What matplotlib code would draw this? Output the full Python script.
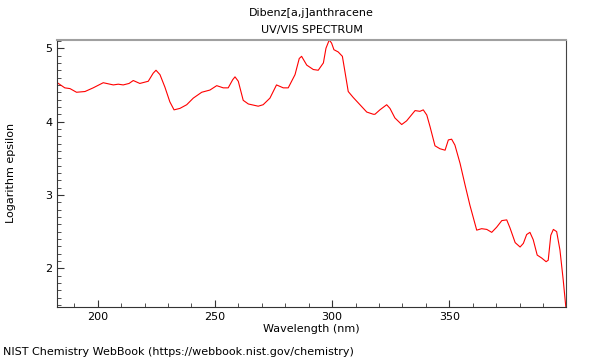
import matplotlib
matplotlib.use("Agg")
import matplotlib.pyplot as plt
from matplotlib.ticker import MultipleLocator

wavelength = [182.8, 186.0, 188.2, 191.0, 194.6, 198.1, 202.4, 206.7, 208.8, 210.9,
              213.4, 215.2, 218.0, 221.6, 223.7, 224.9, 226.6, 228.7, 230.8, 232.6,
              235.1, 238.0, 240.8, 244.4, 247.9, 250.8, 253.6, 255.7, 257.6, 258.6,
              260.0, 262.1, 264.3, 268.5, 270.6, 273.5, 276.3, 279.2, 281.3, 284.2,
              286.0, 287.0, 289.2, 292.0, 294.1, 296.3, 297.4, 298.8, 299.8, 300.8,
              302.6, 304.4, 305.5, 306.9, 309.0, 311.9, 314.8, 317.6, 318.3, 320.4,
              323.3, 324.7, 326.8, 329.7, 331.8, 335.4, 337.5, 338.9, 340.4, 341.8,
              343.9, 346.0, 348.2, 349.6, 351.0, 352.4, 354.6, 356.7, 358.8, 361.7,
              363.8, 366.0, 368.1, 370.2, 372.4, 374.5, 375.9, 378.1, 380.2, 381.6,
              383.0, 384.4, 385.8, 387.5, 389.4, 391.3, 392.2, 393.3, 394.4, 395.8,
              397.2, 398.6, 399.7]
log_eps = [4.53, 4.46, 4.45, 4.40, 4.41, 4.46, 4.53, 4.50, 4.51, 4.50,
           4.52, 4.56, 4.52, 4.55, 4.66, 4.70, 4.64, 4.47, 4.27, 4.16,
           4.18, 4.23, 4.32, 4.40, 4.43, 4.49, 4.46, 4.46, 4.57, 4.61,
           4.55, 4.29, 4.24, 4.21, 4.23, 4.32, 4.50, 4.46, 4.46, 4.64,
           4.86, 4.89, 4.77, 4.71, 4.70, 4.80, 5.00, 5.113, 5.07, 4.98,
           4.95, 4.89, 4.68, 4.41, 4.33, 4.23, 4.13, 4.10, 4.10, 4.16,
           4.23, 4.18, 4.05, 3.96, 4.01, 4.15, 4.14, 4.16, 4.09, 3.93,
           3.67, 3.63, 3.61, 3.75, 3.76, 3.68, 3.43, 3.14, 2.86, 2.52,
           2.54, 2.53, 2.49, 2.56, 2.65, 2.66, 2.55, 2.35, 2.29, 2.34,
           2.46, 2.49, 2.39, 2.18, 2.14, 2.09, 2.11, 2.45, 2.53, 2.50,
           2.25, 1.84, 1.476]

title_lines = ["Dibenz[a,j]anthracene", "UV/VIS SPECTRUM"]
xlabel = "Wavelength (nm)"
ylabel = "Logarithm epsilon"
footer = "NIST Chemistry WebBook (https://webbook.nist.gov/chemistry)"

plt.rcParams['font.family'] = ['DejaVu Sans']
fig = plt.figure(figsize=(6, 3.6), dpi=100)
ax = fig.add_axes([0.0955, 0.148, 0.8475, 0.741])

ax.plot(wavelength, log_eps, color='red', linewidth=0.8)
ax.set_xlim(min(wavelength), max(wavelength))
ax.set_ylim(min(log_eps), max(log_eps))

ax.xaxis.set_major_locator(MultipleLocator(50))
ax.xaxis.set_minor_locator(MultipleLocator(10))
ax.yaxis.set_major_locator(MultipleLocator(1))
ax.yaxis.set_minor_locator(MultipleLocator(0.1))
ax.tick_params(which='both', direction='in', labelsize=8, colors='#333333',
               top=False, right=False)
ax.tick_params(which='major', length=5, width=0.8)
ax.tick_params(which='minor', length=3, width=0.6)
for lab in ax.get_xticklabels() + ax.get_yticklabels():
    lab.set_color('black')

ax.spines['left'].set_color('#333333')
ax.spines['bottom'].set_color('#333333')
ax.spines['right'].set_color('#444444')
ax.spines['top'].set_color('#a0a0a0')
ax.spines['top'].set_linewidth(1.5)

ax.set_xlabel(xlabel, fontsize=8, labelpad=2)
ax.set_ylabel(ylabel, fontsize=8)
ax.yaxis.set_label_coords(-0.082, 0.5)
fig.text(0.5 * (0.0955 + 0.943), 1 - 13 / 360, title_lines[0], fontsize=8,
         ha='center', va='center')
fig.text(0.5 * (0.0955 + 0.943), 1 - 30 / 360, title_lines[1], fontsize=8,
         ha='center', va='center')
fig.text(0.005, 0.022, footer, fontsize=8, ha='left', va='center')

fig.savefig("out.png", dpi=100)
